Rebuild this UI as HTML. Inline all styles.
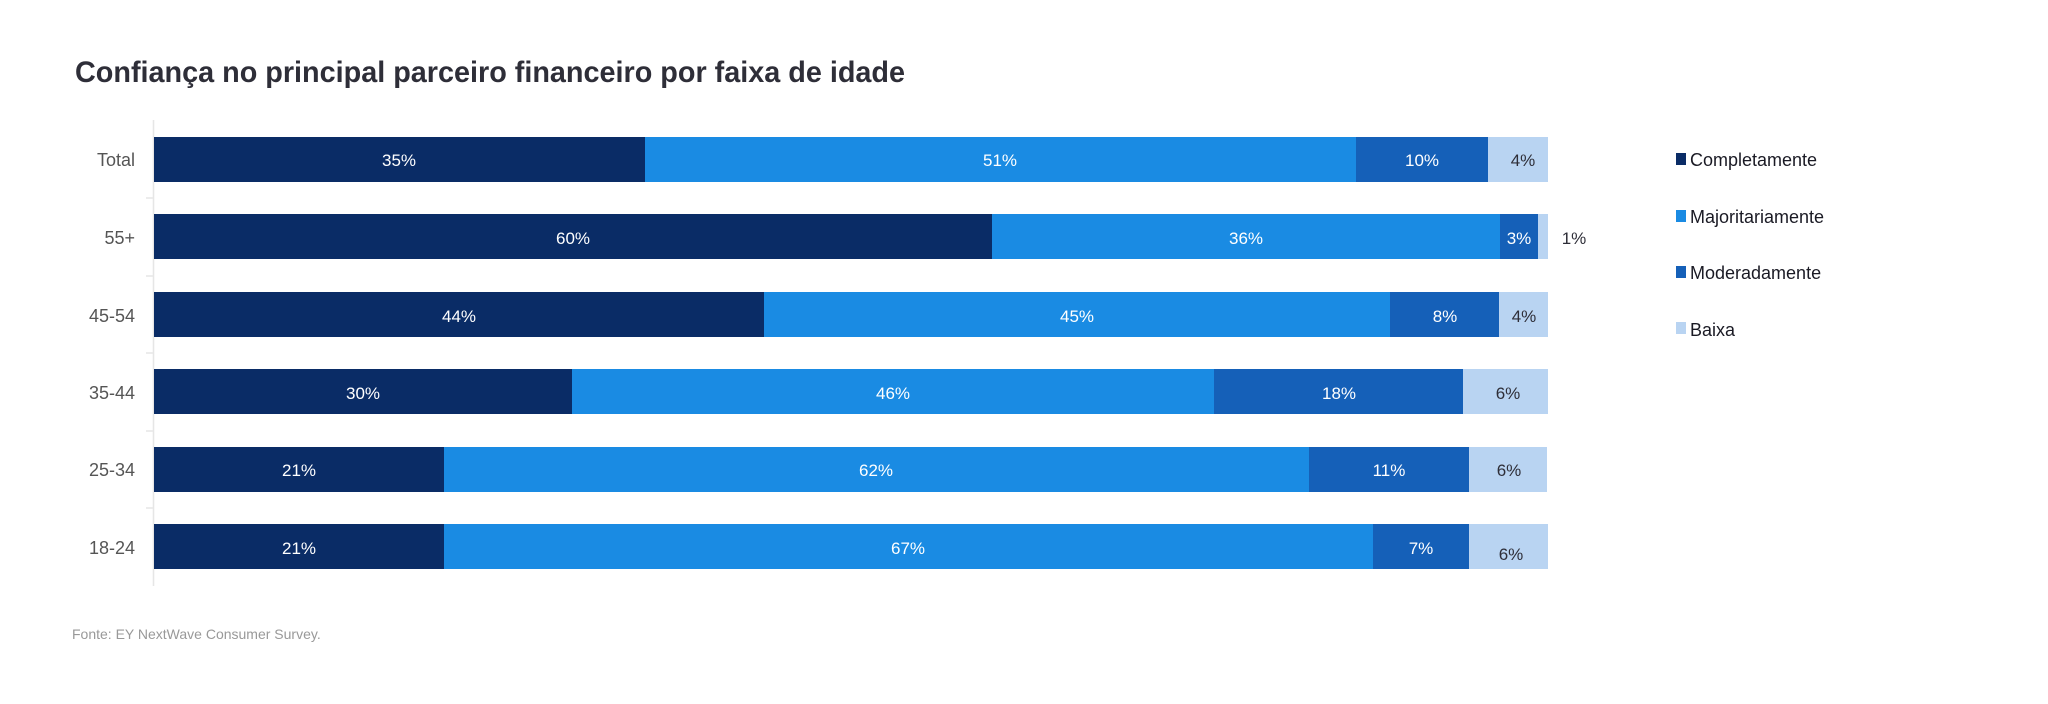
<!DOCTYPE html>
<html><head><meta charset="utf-8"><style>html,body{margin:0;padding:0;background:#fff}svg{display:block}</style></head>
<body>
<svg width="2048" height="704" viewBox="0 0 2048 704" xmlns="http://www.w3.org/2000/svg" font-family="Liberation Sans, sans-serif">
<rect width="2048" height="704" fill="#fff"/>
<text x="75" y="82" font-size="30" font-weight="bold" fill="#2e2e38" textLength="830" lengthAdjust="spacingAndGlyphs">Confiança no principal parceiro financeiro por faixa de idade</text>
<line x1="153.5" y1="120" x2="153.5" y2="586" stroke="#e6e6e6" stroke-width="1.5"/>
<g stroke="#e6e6e6" stroke-width="1.5">
<line x1="146" y1="198" x2="153" y2="198"/><line x1="146" y1="276" x2="153" y2="276"/><line x1="146" y1="353" x2="153" y2="353"/><line x1="146" y1="431" x2="153" y2="431"/><line x1="146" y1="508" x2="153" y2="508"/>
</g>
<g font-size="18" fill="#555" text-anchor="end">
<text x="135" y="166">Total</text><text x="135" y="244">55+</text><text x="135" y="322">45-54</text><text x="135" y="399">35-44</text><text x="135" y="476">25-34</text><text x="135" y="554">18-24</text>
</g>
<g>
<rect x="154" y="137" width="491" height="45" fill="#0a2c66"/><rect x="645" y="137" width="711" height="45" fill="#1a8be3"/><rect x="1356" y="137" width="132" height="45" fill="#1560b8"/><rect x="1488" y="137" width="60" height="45" fill="#b9d4f2"/>
<rect x="154" y="214" width="838" height="45" fill="#0a2c66"/><rect x="992" y="214" width="508" height="45" fill="#1a8be3"/><rect x="1500" y="214" width="38" height="45" fill="#1560b8"/><rect x="1538" y="214" width="10" height="45" fill="#b9d4f2"/>
<rect x="154" y="292" width="610" height="45" fill="#0a2c66"/><rect x="764" y="292" width="626" height="45" fill="#1a8be3"/><rect x="1390" y="292" width="109" height="45" fill="#1560b8"/><rect x="1499" y="292" width="49" height="45" fill="#b9d4f2"/>
<rect x="154" y="369" width="418" height="45" fill="#0a2c66"/><rect x="572" y="369" width="642" height="45" fill="#1a8be3"/><rect x="1214" y="369" width="249" height="45" fill="#1560b8"/><rect x="1463" y="369" width="85" height="45" fill="#b9d4f2"/>
<rect x="154" y="447" width="290" height="45" fill="#0a2c66"/><rect x="444" y="447" width="865" height="45" fill="#1a8be3"/><rect x="1309" y="447" width="160" height="45" fill="#1560b8"/><rect x="1469" y="447" width="78" height="45" fill="#b9d4f2"/>
<rect x="154" y="524" width="290" height="45" fill="#0a2c66"/><rect x="444" y="524" width="929" height="45" fill="#1a8be3"/><rect x="1373" y="524" width="96" height="45" fill="#1560b8"/><rect x="1469" y="524" width="79" height="45" fill="#b9d4f2"/>
</g>
<g font-size="17" text-anchor="middle" fill="#fff">
<text x="399" y="166">35%</text><text x="1000" y="166">51%</text><text x="1422" y="166">10%</text>
<text x="573" y="244">60%</text><text x="1246" y="244">36%</text><text x="1519" y="244">3%</text>
<text x="459" y="322">44%</text><text x="1077" y="322">45%</text><text x="1445" y="322">8%</text>
<text x="363" y="399">30%</text><text x="893" y="399">46%</text><text x="1339" y="399">18%</text>
<text x="299" y="476">21%</text><text x="876" y="476">62%</text><text x="1389" y="476">11%</text>
<text x="299" y="554">21%</text><text x="908" y="554">67%</text><text x="1421" y="554">7%</text>
</g>
<g font-size="17" text-anchor="middle" fill="#2e2e38">
<text x="1523" y="166">4%</text><text x="1574" y="244">1%</text><text x="1524" y="322">4%</text><text x="1508" y="399">6%</text><text x="1509" y="476">6%</text><text x="1511" y="560">6%</text>
</g>
<g font-size="18" fill="#1a1a24">
<rect x="1676" y="153" width="10" height="12" fill="#0a2c66"/><text x="1690" y="166">Completamente</text>
<rect x="1676" y="210" width="10" height="12" fill="#1a8be3"/><text x="1690" y="223">Majoritariamente</text>
<rect x="1676" y="266" width="10" height="12" fill="#1560b8"/><text x="1690" y="279">Moderadamente</text>
<rect x="1676" y="322" width="10" height="12" fill="#b9d4f2"/><text x="1690" y="336">Baixa</text>
</g>
<text x="72" y="639" font-size="14" fill="#999">Fonte: EY NextWave Consumer Survey.</text>
</svg>
</body></html>
